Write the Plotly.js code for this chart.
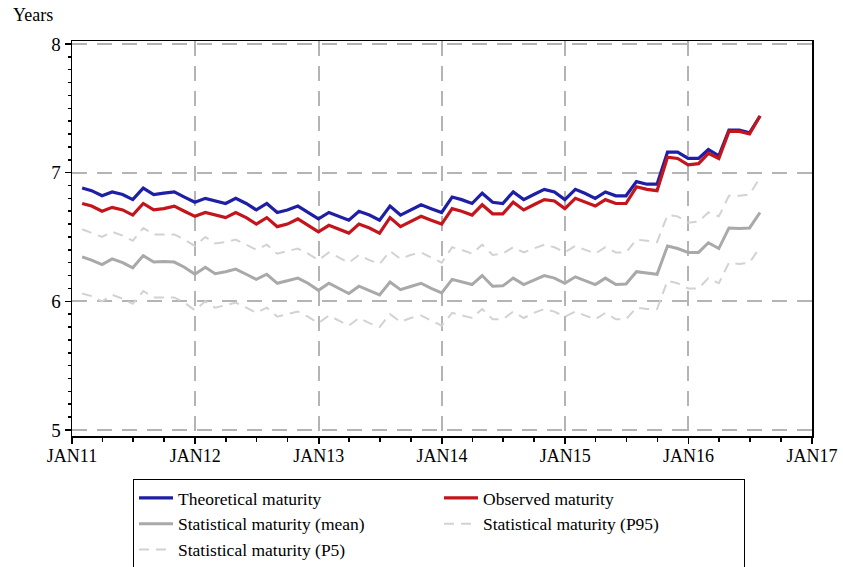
<!DOCTYPE html>
<html>
<head>
<meta charset="utf-8">
<script src="https://cdn.plot.ly/plotly-3.0.1.min.js"></script>
<style>html,body{margin:0;padding:0;background:#fff;}#chart{width:843px;height:567px;}</style>
</head>
<body>
<div id="chart"></div>
<script>
// Monthly observations, Jan 2011 .. Jul 2016 (plotted at month end)
const startYear = 2011, startMonth = 1, nMonths = 67;
const theoretical = [
  6.88,6.86,6.82,6.85,6.83,6.79,6.88,6.83,6.84,6.85,6.81,6.77,
  6.80,6.78,6.76,6.80,6.76,6.71,6.76,6.69,6.71,6.74,6.69,6.64,
  6.69,6.66,6.63,6.70,6.67,6.63,6.74,6.67,6.71,6.75,6.72,6.69,
  6.81,6.79,6.76,6.84,6.77,6.76,6.85,6.79,6.83,6.87,6.85,6.79,
  6.87,6.84,6.80,6.85,6.82,6.82,6.93,6.91,6.91,7.16,7.16,7.11,
  7.11,7.18,7.13,7.33,7.33,7.31,7.44];
const observed = [
  6.76,6.74,6.70,6.73,6.71,6.67,6.76,6.71,6.72,6.74,6.70,6.66,
  6.69,6.67,6.65,6.69,6.65,6.60,6.65,6.58,6.60,6.64,6.59,6.54,
  6.59,6.56,6.53,6.60,6.57,6.53,6.65,6.58,6.62,6.66,6.63,6.60,
  6.72,6.70,6.67,6.75,6.68,6.68,6.77,6.71,6.75,6.79,6.78,6.72,
  6.80,6.77,6.74,6.79,6.76,6.76,6.89,6.87,6.86,7.12,7.11,7.06,
  7.07,7.15,7.11,7.32,7.32,7.30,7.44];
const statMean = [
  6.345,6.32,6.285,6.33,6.30,6.26,6.355,6.305,6.31,6.305,6.265,6.21,
  6.265,6.215,6.23,6.25,6.21,6.17,6.21,6.14,6.16,6.18,6.14,6.085,
  6.14,6.10,6.06,6.117,6.08,6.05,6.15,6.09,6.115,6.14,6.10,6.065,
  6.17,6.15,6.13,6.20,6.117,6.12,6.18,6.13,6.165,6.20,6.18,6.14,
  6.19,6.16,6.13,6.18,6.13,6.135,6.23,6.22,6.21,6.43,6.41,6.38,
  6.38,6.455,6.41,6.57,6.565,6.57,6.69];
const statP95 = [
  6.56,6.53,6.50,6.54,6.51,6.47,6.57,6.52,6.52,6.52,6.48,6.43,
  6.50,6.45,6.46,6.48,6.44,6.40,6.44,6.37,6.39,6.41,6.37,6.32,
  6.38,6.34,6.30,6.36,6.32,6.29,6.39,6.33,6.36,6.38,6.34,6.30,
  6.42,6.40,6.37,6.44,6.36,6.37,6.42,6.38,6.41,6.44,6.42,6.38,
  6.43,6.40,6.37,6.42,6.38,6.38,6.48,6.47,6.46,6.67,6.66,6.61,
  6.62,6.69,6.66,6.82,6.82,6.83,6.96];
const statP5 = [
  6.06,6.04,6.00,6.05,6.02,5.98,6.08,6.03,6.03,6.03,5.99,5.93,
  6.00,5.95,5.97,5.99,5.95,5.91,5.95,5.88,5.90,5.92,5.88,5.83,
  5.89,5.85,5.81,5.87,5.83,5.80,5.90,5.84,5.87,5.89,5.85,5.81,
  5.91,5.89,5.87,5.94,5.86,5.86,5.92,5.87,5.91,5.94,5.92,5.88,
  5.92,5.89,5.86,5.91,5.86,5.86,5.95,5.94,5.94,6.16,6.14,6.10,
  6.10,6.18,6.14,6.30,6.29,6.30,6.42];
const xTickVals = ['2011-01-01','2012-01-01','2013-01-01','2014-01-01','2015-01-01','2016-01-01','2017-01-01'];
const xTickText = ['JAN11','JAN12','JAN13','JAN14','JAN15','JAN16','JAN17'];
const yTickVals = [5,6,7,8];

// month-end dates
const dates = [];
for (let i = 0; i < nMonths; i++) {
  const d = new Date(Date.UTC(startYear, startMonth - 1 + i + 1, 0));
  dates.push(d.toISOString().slice(0,10));
}

const serif = 'Liberation Serif';
const traces = [
  {x: dates, y: theoretical, name: 'Theoretical maturity', mode: 'lines', line: {color: '#1f1fa6', width: 3.2}},
  {x: dates, y: observed, name: 'Observed maturity', mode: 'lines', line: {color: '#c4141c', width: 3.2}},
  {x: dates, y: statMean, name: 'Statistical maturity (mean)', mode: 'lines', line: {color: '#a9a9a9', width: 3}},
  {x: dates, y: statP95, name: 'Statistical maturity (P95)', mode: 'lines', line: {color: '#d2d2d2', width: 2, dash: '10px,7px'}},
  {x: dates, y: statP5, name: 'Statistical maturity (P5)', mode: 'lines', line: {color: '#d2d2d2', width: 2, dash: '10px,7px'}}
];

const layout = {
  width: 843, height: 567,
  margin: {l: 72, r: 31, t: 41, b: 131},
  paper_bgcolor: '#fff', plot_bgcolor: '#fff',
  font: {family: serif, size: 17, color: '#000'},
  showlegend: true,
  legend: {
    orientation: 'h', xref: 'container', yref: 'container',
    x: 133 / 843, xanchor: 'left', y: 1 - 479 / 567, yanchor: 'top',
    bordercolor: '#000', borderwidth: 1, bgcolor: '#fff',
    entrywidth: 256, entrywidthmode: 'pixels', itemwidth: 34,
    font: {family: serif, size: 17.5, color: '#000'}, traceorder: 'normal'
  },
  xaxis: {
    type: 'date', range: ['2011-01-01', '2017-01-01'],
    tickmode: 'array', tickvals: xTickVals, ticktext: xTickText,
    ticks: 'outside', ticklen: 6, tickwidth: 1.5, tickcolor: '#000',
    ticklabelstandoff: -3,
    showline: true, linecolor: '#000', linewidth: 1.5, mirror: true,
    showgrid: true, gridcolor: '#b4b4b4', gridwidth: 2, griddash: '15px,10px',
    zeroline: false,
    minor: {dtick: 'M3', ticks: 'outside', ticklen: 4, tickcolor: '#000', showgrid: false},
    tickfont: {family: serif, size: 18, color: '#000'}
  },
  yaxis: {
    range: [4.953, 8.023],
    tickmode: 'array', tickvals: yTickVals,
    ticks: 'outside', ticklen: 6, tickwidth: 1.5, tickcolor: '#000',
    showline: true, linecolor: '#000', linewidth: 1.5, mirror: true,
    showgrid: true, gridcolor: '#b4b4b4', gridwidth: 2, griddash: '15px,10px',
    zeroline: false,
    minor: {dtick: 0.1, ticks: 'outside', ticklen: 3, tickcolor: '#000', showgrid: false},
    tickfont: {family: serif, size: 19, color: '#000'}
  },
  annotations: [{
    text: 'Years', xref: 'paper', yref: 'paper', x: -0.083, y: 1.035,
    xanchor: 'left', yanchor: 'bottom', showarrow: false,
    font: {family: serif, size: 18, color: '#000'}
  }]
};

Plotly.newPlot('chart', traces, layout, {displayModeBar: false, staticPlot: true});
</script>
</body>
</html>
